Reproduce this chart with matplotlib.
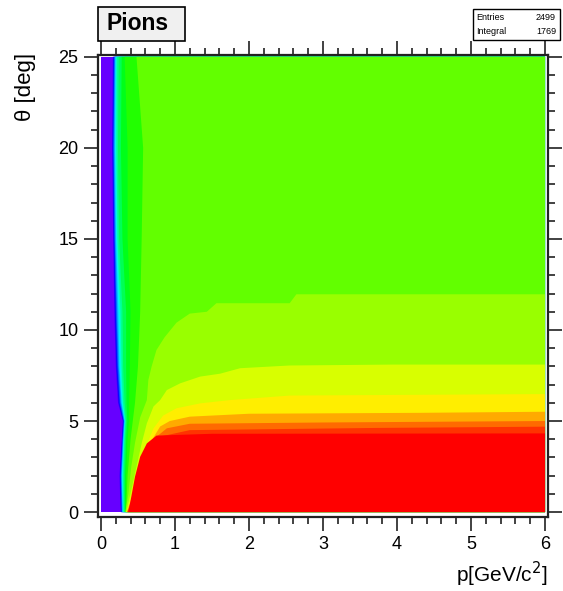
import matplotlib
matplotlib.use("Agg")
import matplotlib.pyplot as plt
from matplotlib.patches import Rectangle
from matplotlib.ticker import MultipleLocator

plt.rcParams["font.family"] = ["Liberation Sans", "DejaVu Sans"]

# ---- data: contour band boundaries --------------------------------------- #
# band colours, lowest (left, purple) to highest (red)
COLORS = ["#6600ff", "#3300ff", "#0008ff", "#0044ff", "#0080ff", "#00bbff",
          "#00f0ff", "#00ffcc", "#00ff91", "#00ff55", "#00ff19", "#22ff00",
          "#62ff00", "#99ff00", "#d8ff00", "#ffee00", "#ffaa00", "#ff6a00",
          "#ff3300", "#ff0000"]

# boundaries 1..12 run bottom -> top: p of the boundary at each theta
THETA_L = [0, 2, 4, 5, 6, 8, 11, 15, 20, 25]
P_B1 = [0.265, 0.25, 0.28, 0.295, 0.23, 0.20, 0.18, 0.165, 0.15, 0.16]
P_B2 = [0.272, 0.258, 0.285, 0.30, 0.24, 0.21, 0.19, 0.172, 0.158, 0.168]
P_B3 = [0.278, 0.265, 0.29, 0.305, 0.25, 0.22, 0.20, 0.18, 0.165, 0.175]
P_B4 = [0.284, 0.272, 0.295, 0.31, 0.26, 0.23, 0.21, 0.187, 0.172, 0.182]
P_B5 = [0.29, 0.278, 0.30, 0.315, 0.27, 0.24, 0.22, 0.195, 0.18, 0.19]
P_B6 = [0.295, 0.284, 0.305, 0.32, 0.28, 0.25, 0.235, 0.205, 0.19, 0.198]
P_B7 = [0.30, 0.29, 0.31, 0.325, 0.29, 0.265, 0.25, 0.215, 0.20, 0.206]
P_B8 = [0.305, 0.296, 0.315, 0.33, 0.30, 0.28, 0.265, 0.225, 0.21, 0.215]
P_B9 = [0.315, 0.31, 0.325, 0.34, 0.32, 0.30, 0.29, 0.245, 0.23, 0.24]
P_B10 = [0.325, 0.325, 0.34, 0.355, 0.345, 0.34, 0.34, 0.29, 0.27, 0.28]
P_B11 = [0.335, 0.34, 0.36, 0.38, 0.38, 0.39, 0.40, 0.36, 0.36, 0.32]
P_B12 = [0.34, 0.36, 0.40, 0.43, 0.46, 0.50, 0.53, 0.55, 0.57, 0.48]

# boundaries 13..19 run from the bottom edge to the right edge: (p, theta)
B13_P = [0.33, 0.37, 0.41, 0.46, 0.53, 0.62, 0.64, 0.685, 0.75, 0.86, 1.02, 1.2, 1.43, 1.56, 2.55, 2.64, 6.0]
B13_T = [0, 1.0, 2.5, 3.8, 5.2, 6.15, 7.25, 8.0, 8.9, 9.6, 10.4, 10.9, 11.0, 11.47, 11.47, 11.96, 11.96]
B14_P = [0.34, 0.41, 0.48, 0.55, 0.62, 0.71, 0.80, 0.89, 1.07, 1.34, 1.61, 1.88, 2.55, 3.95, 6.0]
B14_T = [0, 1.2, 2.5, 3.77, 4.87, 5.8, 6.15, 6.7, 7.07, 7.44, 7.6, 7.9, 8.05, 8.1, 8.1]
B15_P = [0.345, 0.44, 0.51, 0.59, 0.71, 0.84, 1.02, 1.34, 1.74, 2.55, 6.0]
B15_T = [0, 1.2, 2.4, 3.4, 4.6, 5.3, 5.7, 5.97, 6.15, 6.4, 6.48]
B16_P = [0.35, 0.45, 0.53, 0.61, 0.68, 0.8, 0.93, 1.2, 2.0, 4.3, 6.0]
B16_T = [0, 1.2, 2.3, 3.2, 3.9, 4.7, 5.0, 5.24, 5.4, 5.45, 5.51]
B17_P = [0.355, 0.46, 0.54, 0.62, 0.71, 0.89, 1.2, 3.0, 6.0]
B17_T = [0, 1.2, 2.3, 3.2, 4.0, 4.6, 4.85, 4.92, 5.0]
B18_P = [0.36, 0.47, 0.55, 0.64, 0.75, 1.2, 3.7, 6.0]
B18_T = [0, 1.2, 2.3, 3.3, 4.1, 4.5, 4.62, 4.69]
B19_P = [0.37, 0.41, 0.46, 0.53, 0.62, 0.75, 1.5, 6.0]
B19_T = [0, 0.84, 1.94, 3.04, 3.77, 4.2, 4.3, 4.32]

ENTRIES, INTEGRAL = 2499, 1769
P_MAX, THETA_MAX = 6.0, 25.0

left_bounds = [P_B1, P_B2, P_B3, P_B4, P_B5, P_B6, P_B7, P_B8, P_B9, P_B10, P_B11, P_B12]
right_bounds = [(B13_P, B13_T), (B14_P, B14_T), (B15_P, B15_T), (B16_P, B16_T),
                (B17_P, B17_T), (B18_P, B18_T), (B19_P, B19_T)]

# ---- figure -------------------------------------------------------------- #
W, H = 563, 591
fig = plt.figure(figsize=(W / 100, H / 100), dpi=100)
ax = fig.add_axes([98 / W, 1 - 517 / H, 450 / W, 462 / H])

# lowest band covers everything, higher bands painted on top
ax.fill([0, P_MAX, P_MAX, 0], [0, 0, THETA_MAX, THETA_MAX], color=COLORS[0], lw=0)
for k, pb in enumerate(left_bounds, start=1):
    ax.fill(pb + [P_MAX, P_MAX], THETA_L + [THETA_MAX, 0], color=COLORS[k], lw=0)
for k, (pb, tb) in enumerate(right_bounds, start=13):
    ax.fill(pb + [P_MAX], tb + [0], color=COLORS[k], lw=0)

ax.set_xlim(-0.04, 6.04)
ax.set_ylim(-0.27, 25.1)
ax.xaxis.set_major_locator(MultipleLocator(1))
ax.xaxis.set_minor_locator(MultipleLocator(0.2))
ax.yaxis.set_major_locator(MultipleLocator(5))
ax.yaxis.set_minor_locator(MultipleLocator(1))
ax.tick_params(which="both", direction="out", top=True, right=True, width=1.3,
               color="#333333", labelsize=13, pad=4)
ax.tick_params(which="major", length=10)
ax.tick_params(which="minor", length=5)
for s in ax.spines.values():
    s.set_linewidth(1.6)
    s.set_color("#222222")

fig.text(548 / W, 1 - 582 / H, "p[GeV/c$^2$]", fontsize=15, ha="right", va="baseline")
fig.text(26 / W, 1 - 53 / H, "θ [deg]", fontsize=16, rotation=90, ha="center", va="top")

# title box
fig.add_artist(Rectangle((98 / W, 1 - 41 / H), 87 / W, 34 / H, transform=fig.transFigure,
                         fc="#f0f0f0", ec="black", lw=1.2))
fig.text(107 / W, 1 - 24 / H, "Pions", fontsize=16.5, fontweight="bold", ha="left", va="center")

# stats box
fig.add_artist(Rectangle((473 / W, 1 - 40 / H), 87 / W, 31 / H, transform=fig.transFigure,
                         fc="white", ec="black", lw=1.0))
fig.text(476 / W, 1 - 18 / H, "Entries", fontsize=6.5, ha="left", va="center")
fig.text(556 / W, 1 - 18 / H, str(ENTRIES), fontsize=6.5, ha="right", va="center")
fig.text(476 / W, 1 - 31 / H, "Integral", fontsize=6.5, ha="left", va="center")
fig.text(556 / W, 1 - 31 / H, str(INTEGRAL), fontsize=6.5, ha="right", va="center")

fig.savefig("out.png", dpi=100)
